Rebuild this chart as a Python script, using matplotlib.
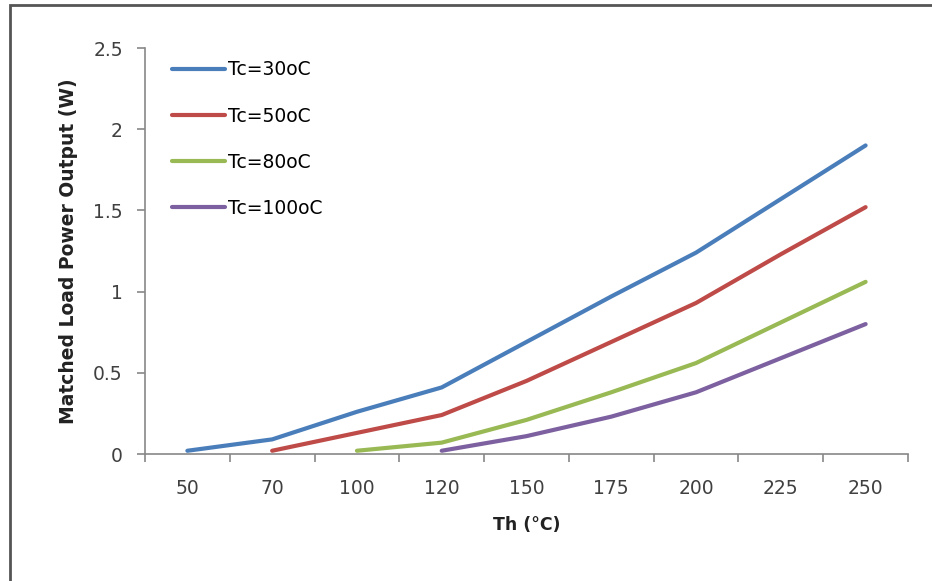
import matplotlib; matplotlib.use("Agg")
import matplotlib.pyplot as plt
import numpy as np
from matplotlib.patches import Rectangle

th_labels = ["50", "70", "100", "120", "150", "175", "200", "225", "250"]
nan = np.nan
tc30  = [0.02, 0.09, 0.26, 0.41, 0.69, 0.97, 1.24, 1.57, 1.90]
tc50  = [nan, 0.02, 0.13, 0.24, 0.45, 0.69, 0.93, 1.23, 1.52]
tc80  = [nan, nan, 0.02, 0.07, 0.21, 0.38, 0.56, 0.81, 1.06]
tc100 = [nan, nan, nan, 0.02, 0.11, 0.23, 0.38, 0.59, 0.80]
series = [("Tc=30oC", tc30, "#4A7EBB"), ("Tc=50oC", tc50, "#BE4B48"),
          ("Tc=80oC", tc80, "#98B954"), ("Tc=100oC", tc100, "#7D60A0")]

plt.rcParams["font.family"] = ["DejaVu Sans"]
fig = plt.figure(figsize=(9.32, 5.81), dpi=100)
ax = fig.add_axes([145/932, 1-454/581, (908-145)/932, (454-48)/581])

x = np.arange(len(th_labels))
for name, vals, col in series:
    ax.plot(x, vals, color=col, lw=3.0, solid_capstyle="round", label=name)

ax.set_xlim(-0.5, len(th_labels)-0.5)
ax.set_ylim(0, 2.5)
ax.set_yticks([0, 0.5, 1, 1.5, 2, 2.5])
ax.set_yticklabels(["0", "0.5", "1", "1.5", "2", "2.5"], fontsize=13.5, color="#404040")
ax.set_xticks(x)
ax.set_xticklabels(th_labels, fontsize=13.5, color="#404040")
ax.tick_params(axis="x", which="major", length=0, pad=18)
ax.set_xticks(np.arange(-0.5, len(th_labels), 1), minor=True)
ax.tick_params(axis="x", which="minor", length=6, color="#888888", width=1.2)
ax.tick_params(axis="y", length=6, color="#888888", width=1.2, pad=10)
for s in ["top", "right"]:
    ax.spines[s].set_visible(False)
for s in ["left", "bottom"]:
    ax.spines[s].set_color("#888888"); ax.spines[s].set_linewidth(1.2)

ax.set_xlabel("Th (\u00b0C)", fontsize=12.5, fontweight="bold", color="#222222", labelpad=13)
ax.set_ylabel("Matched Load Power Output (W)", fontsize=13.5, fontweight="bold", color="#222222", labelpad=11)

ax.legend(loc="upper left", frameon=False, fontsize=13.5, handlelength=2.8, handletextpad=0.15,
          labelspacing=1.45, borderaxespad=0, bbox_to_anchor=(0.026, 0.988))

fig.patches.append(Rectangle((10/932, -0.1), 1.2, 1-5/581+0.1, transform=fig.transFigure,
                             fill=False, edgecolor="#555555", lw=2))
fig.savefig("out.png", dpi=100)
